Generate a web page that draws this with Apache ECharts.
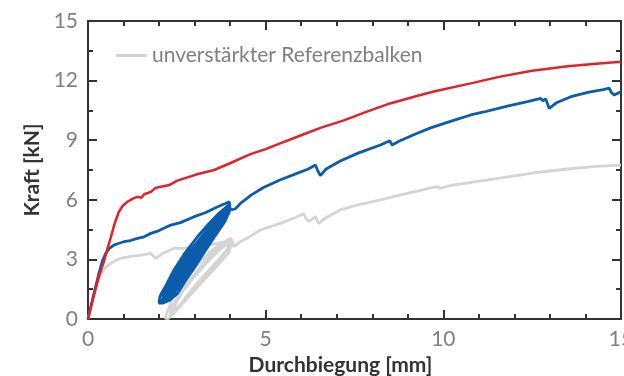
<!DOCTYPE html>
<html>
<head>
<meta charset="utf-8">
<title>Kraft-Durchbiegung</title>
<script src="https://cdn.jsdelivr.net/npm/echarts@6/dist/echarts.min.js"></script>
<style>
    html, body { margin: 0; padding: 0; background: #fff; }
    #chart { width: 624px; height: 376px; }
</style>
</head>
<body>
<div id="chart"></div>
<script>
var xTicks = [0, 5, 10, 15];
var yTicks = [0, 3, 6, 9, 12, 15];

// rot
var redCurve = [
    [0, 0], [0.15, 1.1], [0.3, 2.1], [0.45, 2.9], [0.55, 3.55], [0.64, 4.1], [0.75, 4.8],
    [0.87, 5.4], [0.98, 5.7], [1.11, 5.9], [1.25, 6.05], [1.39, 6.15], [1.5, 6.1], [1.58, 6.28],
    [1.77, 6.4], [1.9, 6.6], [2.05, 6.66], [2.3, 6.75], [2.5, 6.95], [2.71, 7.08], [3.1, 7.3],
    [3.55, 7.5], [4.0, 7.84], [4.57, 8.3], [5.0, 8.55], [5.41, 8.84], [6.0, 9.25], [6.54, 9.62],
    [7.2, 10.0], [7.87, 10.45], [8.5, 10.85], [9.2, 11.2], [9.73, 11.45], [10.77, 11.86],
    [11.6, 12.2], [12.5, 12.5], [13.5, 12.72], [14.3, 12.85], [15, 12.95]
];

// blau: Anstieg, Be-/Entlastungszyklen, weiterer Verlauf
var blueStart = [
    [0, 0], [0.15, 1.15], [0.3, 2.25], [0.4, 2.9], [0.5, 3.3], [0.6, 3.55], [0.73, 3.72],
    [0.85, 3.8], [1.01, 3.89], [1.2, 3.95], [1.39, 4.06], [1.55, 4.12], [1.77, 4.31], [2.0, 4.45],
    [2.33, 4.73], [2.6, 4.85], [2.99, 5.15], [3.3, 5.35], [3.65, 5.65], [3.85, 5.8], [3.98, 5.9]
];
var blueLoop = [
    [4.02, 5.82], [3.98, 5.4], [3.85, 4.9], [3.56, 4.14], [3.25, 3.3], [2.95, 2.47], [2.75, 1.95],
    [2.52, 1.29], [2.3, 0.95], [2.1, 0.8], [2.0, 0.8],
    [2.02, 1.1], [2.07, 1.3], [2.2, 1.7], [2.42, 2.47], [2.7, 3.25], [3.08, 4.14], [3.4, 4.8],
    [3.7, 5.35], [3.9, 5.65], [4.0, 5.78],
    [3.95, 5.45], [3.8, 4.95], [3.45, 4.0], [3.1, 3.05], [2.8, 2.25], [2.5, 1.5], [2.25, 1.05],
    [2.08, 0.88],
    [2.15, 1.35], [2.4, 2.15], [2.75, 3.15], [3.15, 4.05], [3.55, 4.9], [3.85, 5.45], [3.98, 5.7],
    [3.95, 5.35], [3.72, 4.8], [3.44, 4.14], [3.12, 3.3], [2.81, 2.47], [2.42, 1.29], [2.15, 0.88],
    [2.18, 1.29], [2.57, 2.47], [2.88, 3.3], [3.2, 4.14], [3.48, 4.8], [3.72, 5.35], [3.97, 5.72],
    [3.9, 5.35], [3.66, 4.8], [3.38, 4.14], [3.06, 3.3], [2.75, 2.47], [2.36, 1.29], [2.1, 0.9],
    [2.24, 1.29], [2.63, 2.47], [2.94, 3.3], [3.26, 4.14], [3.54, 4.8], [3.77, 5.35], [3.98, 5.75],
    [3.85, 5.3], [3.6, 4.7], [3.32, 4.05], [3.0, 3.2], [2.69, 2.4], [2.3, 1.25], [2.05, 0.85],
    [2.3, 1.35], [2.69, 2.55], [3.0, 3.35], [3.32, 4.2], [3.6, 4.85], [3.83, 5.38], [3.97, 5.62]
];
var blueEnd = [
    [4.05, 5.5], [4.15, 5.55], [4.29, 5.82], [4.6, 6.25], [4.94, 6.62], [5.4, 7.0], [5.88, 7.33],
    [6.2, 7.55], [6.4, 7.75], [6.47, 7.45], [6.54, 7.22], [6.7, 7.55], [7.1, 7.95], [7.6, 8.35],
    [8.23, 8.76], [8.49, 8.97], [8.56, 8.76], [8.75, 8.95], [9.2, 9.3], [9.64, 9.62], [10.2, 9.95],
    [10.77, 10.27], [11.14, 10.42], [11.8, 10.72], [12.4, 10.95], [12.74, 11.1], [12.8, 10.98],
    [12.88, 11.08], [12.95, 10.75], [12.98, 10.6], [13.2, 10.9], [13.59, 11.19], [14.1, 11.42],
    [14.5, 11.55], [14.67, 11.62], [14.73, 11.4], [14.81, 11.27], [15, 11.44]
];

// grau: unverstärkter Referenzbalken
var greyStart = [
    [0, 0], [0.15, 1.05], [0.3, 1.95], [0.4, 2.35], [0.5, 2.6], [0.64, 2.8], [0.78, 2.95],
    [0.92, 3.05], [1.2, 3.15], [1.49, 3.22], [1.77, 3.3], [1.85, 3.15], [1.91, 3.05], [2.1, 3.3],
    [2.42, 3.56], [2.7, 3.55], [2.99, 3.64], [3.3, 3.7], [3.65, 3.81], [3.85, 3.9], [4.02, 4.06]
];
var greyLoop = [
    [4.06, 3.85], [3.95, 3.3], [3.7, 2.8], [3.44, 2.3], [3.1, 1.65], [2.83, 1.12], [2.55, 0.55],
    [2.4, 0.25], [2.25, 0.02],
    [2.17, 0.04], [2.25, 0.45], [2.4, 1.12], [2.6, 1.6], [2.88, 2.3], [3.2, 2.95], [3.49, 3.47],
    [3.8, 3.85], [4.02, 4.0],
    [3.98, 3.6], [3.7, 3.0], [3.3, 2.2], [2.95, 1.5], [2.65, 0.85], [2.4, 0.3],
    [2.45, 0.7], [2.65, 1.35], [2.95, 2.05], [3.3, 2.75], [3.65, 3.4], [4.0, 3.9],
    [3.9, 3.45], [3.55, 2.75], [3.15, 1.95], [2.8, 1.2], [2.5, 0.5], [2.3, 0.1],
    [2.35, 0.55], [2.55, 1.2], [2.85, 1.95], [3.25, 2.8], [3.62, 3.5], [4.05, 3.95]
];
var greyEnd = [
    [4.1, 3.65], [4.3, 3.9], [4.47, 4.06], [4.85, 4.48], [5.41, 4.81], [5.75, 5.05], [6.07, 5.3],
    [6.14, 5.05], [6.21, 4.9], [6.4, 5.15], [6.45, 4.95], [6.49, 4.81], [6.7, 5.1], [7.1, 5.49],
    [7.6, 5.75], [8.23, 6.0], [8.8, 6.25], [9.3, 6.45], [9.64, 6.6], [9.84, 6.66], [9.9, 6.58],
    [10.2, 6.72], [10.7, 6.85], [11.25, 7.0], [12.0, 7.2], [12.74, 7.4], [13.5, 7.55],
    [14.3, 7.68], [15, 7.75]
];

var legendName = 'unverstärkter Referenzbalken';

var axisColor = '#333';
var labelColor = '#808080';
var fontName = 'Lato';

// Rahmen: Achsenlinie mit nach innen zeigenden Haupt- und Nebenstrichen
function frameAxis(pos, tickStep, minorSplit) {
    return {
        type: 'value',
        position: pos,
        min: 0,
        max: 15,
        interval: tickStep,
        axisLine: { show: true, onZero: false, lineStyle: { color: axisColor, width: 2 } },
        axisTick: { show: true, inside: true, length: 9, lineStyle: { color: axisColor, width: 2 } },
        minorTick: { show: true, splitNumber: minorSplit, length: 5, lineStyle: { color: axisColor, width: 2 } },
        axisLabel: { show: false },
        splitLine: { show: false }
    };
}

var xMain = frameAxis('bottom', xTicks[1] - xTicks[0], 5);
xMain.axisLabel = { show: true, margin: 10, color: labelColor, fontSize: 21, fontFamily: fontName };
xMain.name = 'Durchbiegung [mm]';
xMain.nameLocation = 'middle';
xMain.nameGap = 32;
xMain.nameTextStyle = { color: axisColor, fontSize: 21, fontWeight: 'bold', fontFamily: fontName, padding: [0, 28, 0, 0] };

var yMain = frameAxis('left', yTicks[1] - yTicks[0], 2);
yMain.axisLabel = { show: true, margin: 10, color: labelColor, fontSize: 21, fontFamily: fontName };
yMain.name = 'Kraft [kN]';
yMain.nameLocation = 'middle';
yMain.nameGap = 40;
yMain.nameTextStyle = { color: axisColor, fontSize: 21, fontWeight: 'bold', fontFamily: fontName };

var option = {
    animation: false,
    grid: { left: 88, right: 3, top: 21, bottom: 57, outerBoundsMode: 'none' },
    legend: {
        data: [legendName],
        left: 111,
        top: 40,
        icon: 'rect',
        itemWidth: 31,
        itemHeight: 3,
        itemStyle: { color: '#d4d4d4' },
        textStyle: { color: labelColor, fontSize: 21, fontFamily: fontName }
    },
    xAxis: [xMain, frameAxis('top', 5, 5)],
    yAxis: [yMain, frameAxis('right', 3, 2)],
    series: [
        {
            name: legendName,
            type: 'line',
            symbol: 'none',
            lineStyle: { color: '#d4d4d4', width: 2.8 },
            itemStyle: { color: '#d4d4d4' },
            data: greyStart.concat(greyLoop, greyEnd)
        },
        {
            name: 'blau',
            type: 'line',
            symbol: 'none',
            lineStyle: { color: '#0b5cab', width: 2.8 },
            data: blueStart.concat(blueLoop, blueEnd)
        },
        {
            name: 'rot',
            type: 'line',
            symbol: 'none',
            lineStyle: { color: '#e2222b', width: 2.5 },
            data: redCurve
        }
    ]
};

var chart = echarts.init(document.getElementById('chart'));
chart.setOption(option);
</script>
</body>
</html>
